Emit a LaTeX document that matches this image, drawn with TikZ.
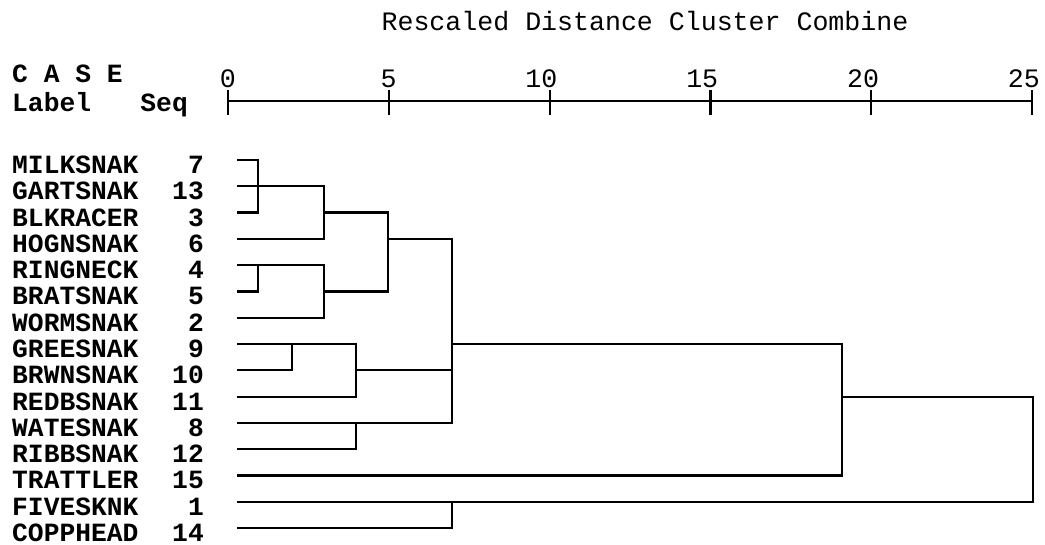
\documentclass[tikz,border=0pt]{standalone}
\usepackage{fontspec}
\setmonofont{Liberation Mono}
\usetikzlibrary{positioning}
\newcommand{\ry}[1]{160+26.29*#1}

\begin{document}
\begin{tikzpicture}[x=1pt,y=-1pt,
  tree/.style={line width=2.2pt,line join=miter},
  lab/.style={font=\ttfamily\bfseries\fontsize{26.3}{30}\selectfont,inner sep=0pt},
  num/.style={font=\ttfamily\fontsize{26.6}{30}\selectfont,inner sep=0pt}]
\useasboundingbox (0,0) rectangle (1045,545);

%% header and axis
\node[num,anchor=base] (title) at (645,31) {Rescaled Distance Cluster Combine};
\node[lab,anchor=base west] (hcase) at (12,83) {C A S E};
\node[lab,anchor=base west] (hlabel) at (12,112) {Label};
\node[lab,anchor=base east] (hseq) at (188,112) {Seq};
\foreach \k in {0,5,10,15,20,25} {
  \coordinate (ax\k) at ({228+32.16*\k},101);
  \draw[tree] (ax\k) ++(0,-11) -- ++(0,25);
  \node[num,anchor=base east] (t\k) at ({236+32.16*\k},88) {\k};
}
\draw[tree] (ax0) -- (ax25);

%% cases
\foreach \name/\sq [count=\i from 0] in {MILKSNAK/7,GARTSNAK/13,BLKRACER/3,
    HOGNSNAK/6,RINGNECK/4,BRATSNAK/5,WORMSNAK/2,GREESNAK/9,BRWNSNAK/10,
    REDBSNAK/11,WATESNAK/8,RIBBSNAK/12,TRATTLER/15,FIVESKNK/1,COPPHEAD/14} {
  \node[lab,anchor=base west] (n\sq) at (12,{173.5+26.29*\i}) {\name};
  \node[lab,anchor=base east] (s\sq) at (204,{173.5+26.29*\i}) {\sq};
  \coordinate (c\sq) at (237,{\ry{\i}});
}

%% merge points
\coordinate (nA)   at (258,{\ry{1}});
\coordinate (nAH)  at (324,{\ry{2}});
\coordinate (nB)   at (258,{\ry{4}});
\coordinate (nBW)  at (324,{\ry{5}});
\coordinate (nAB)  at (388,{\ry{3}});
\coordinate (nC)   at (292,{\ry{7}});
\coordinate (nCR)  at (356,{\ry{8}});
\coordinate (nD)   at (356,{\ry{10}});
\coordinate (nBig) at (452,{\ry{7}});
\coordinate (nE)   at (452,{\ry{13}});
\coordinate (nT)   at (842,{\ry{9}});
\coordinate (nAll) at (1033,{\ry{9}});

%% tree
\draw[tree] (c7) -| (nA) |- (c3);
\draw[tree] (c13) -- (nA);
\draw[tree] (nA) -| (nAH) |- (c6);
\draw[tree] (c4) -| (nB) |- (c5);
\draw[tree] (nB) -| (nBW) |- (c2);
\draw[tree] (nAH) -| (nAB) |- (nBW);
\draw[tree] (c9) -| (nC) |- (c10);
\draw[tree] (nC) -| (nCR) |- (c11);
\draw[tree] (c8) -| (nD) |- (c12);
\draw[tree] (nAB) -| (nBig) |- (nD);
\draw[tree] (nCR) -- (nCR -| nBig);
\draw[tree] (c1) -| (nE) |- (c14);
\draw[tree] (nBig) -| (nT) |- (c15);
\draw[tree] (nT) -| (nAll) |- (nE);
\end{tikzpicture}
\end{document}
